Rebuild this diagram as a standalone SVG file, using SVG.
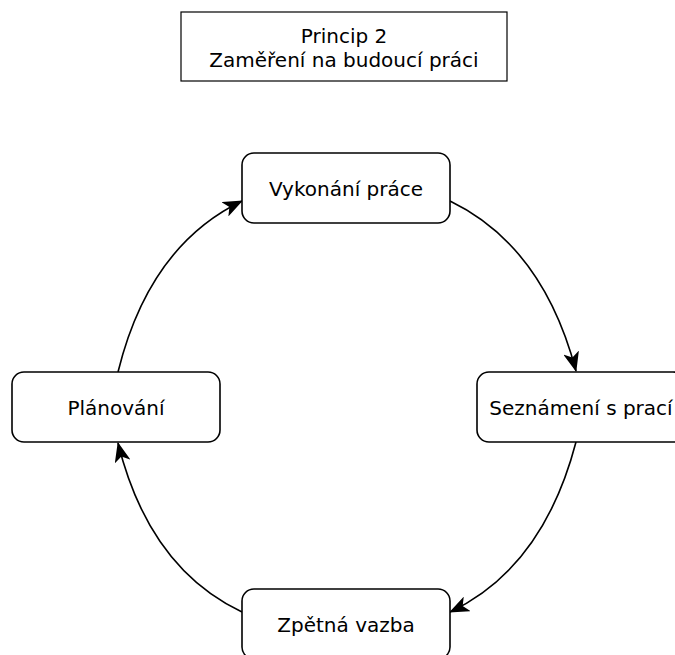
<svg xmlns="http://www.w3.org/2000/svg" width="675" height="655" viewBox="0 0 675 655">
  <style>
    .box { fill: #ffffff; stroke: #000000; stroke-width: 1.6; }
    .title { fill: #ffffff; stroke: #000000; stroke-width: 1.2; }
    .label { font-family: "DejaVu Sans", "Liberation Sans", sans-serif; font-size: 20px; fill: #000000; text-anchor: middle; }
    .edge { fill: none; stroke: #000000; stroke-width: 1.6; }
  </style>
  <defs>
    <marker id="arrow" viewBox="0 -8 20 16" markerUnits="userSpaceOnUse" markerWidth="20" markerHeight="16" refX="19" refY="0" orient="auto">
      <path d="M0,-8 L20,0 L0,8 L5,0 Z" fill="#000000"/>
    </marker>
  </defs>
  <rect width="675" height="655" fill="#ffffff"/>

  <g id="title">
    <rect class="title" x="181" y="12" width="326" height="69"/>
    <text class="label" x="344" y="43">Princip 2</text>
    <text class="label" x="344" y="67">Zaměření na budoucí práci</text>
  </g>

  <g id="connectors">
    <path class="edge" d="M450,201 Q543,246 576,371" marker-end="url(#arrow)"/>
    <path class="edge" d="M576,442 Q543,568 450,612" marker-end="url(#arrow)"/>
    <path class="edge" d="M242,612 Q149,568 118,443" marker-end="url(#arrow)"/>
    <path class="edge" d="M118,372 Q149,246 242,201" marker-end="url(#arrow)"/>
  </g>

  <g id="node-vykonani">
    <rect class="box" x="242" y="153" width="208" height="70" rx="12" ry="12"/>
    <text class="label" x="346" y="196">Vykonání práce</text>
  </g>

  <g id="node-seznameni">
    <rect class="box" x="477" y="372" width="208" height="70" rx="12" ry="12"/>
    <text class="label" x="581" y="415">Seznámení s prací</text>
  </g>

  <g id="node-zpetna">
    <rect class="box" x="242" y="589" width="208" height="70" rx="12" ry="12"/>
    <text class="label" x="346" y="632">Zpětná vazba</text>
  </g>

  <g id="node-planovani">
    <rect class="box" x="12" y="372" width="208" height="70" rx="12" ry="12"/>
    <text class="label" x="116" y="415">Plánování</text>
  </g>
</svg>
